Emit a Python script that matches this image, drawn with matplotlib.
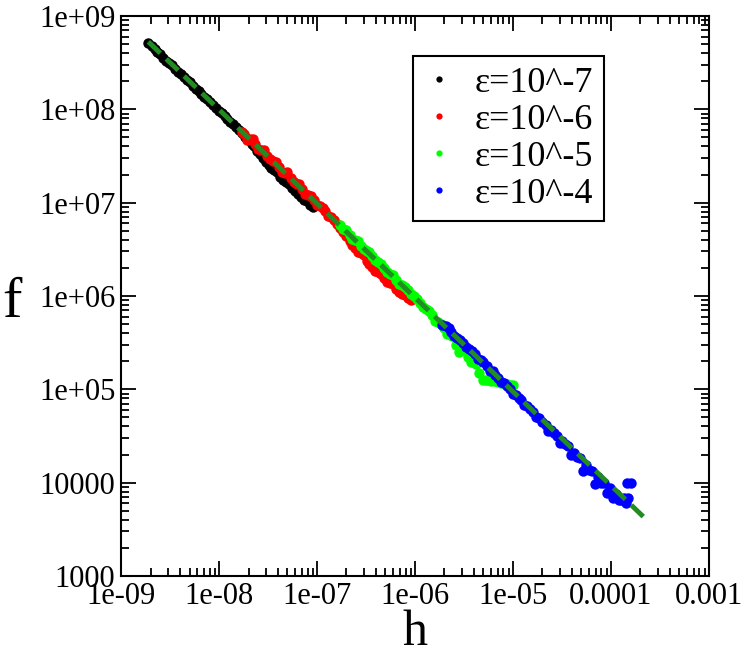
import matplotlib
matplotlib.use("Agg")
import matplotlib.pyplot as plt
from matplotlib.ticker import LogLocator, NullFormatter, FixedFormatter, FixedLocator

# ---- data (step size h vs. function evaluations f) ----
h_e7 = [1.9e-9, 2.05e-9, 2.2e-9, 2.35e-9, 2.5e-9, 2.7e-9, 2.9e-9, 3.1e-9, 3.3e-9, 3.55e-9,
        3.8e-9, 4.1e-9, 4.4e-9, 4.7e-9, 5.0e-9, 5.4e-9, 5.8e-9, 6.2e-9, 6.6e-9, 7.1e-9,
        7.6e-9, 8.1e-9, 8.7e-9, 9.3e-9, 1.0e-8, 1.07e-8, 1.15e-8, 1.22e-8, 1.3e-8, 1.4e-8,
        1.5e-8, 1.6e-8, 1.7e-8, 1.85e-8, 2.0e-8, 2.15e-8, 2.3e-8, 2.45e-8, 2.6e-8, 2.8e-8,
        3.0e-8, 3.2e-8, 3.4e-8, 3.65e-8, 3.9e-8, 4.2e-8, 4.5e-8, 4.85e-8, 5.2e-8, 5.6e-8,
        6.0e-8, 6.45e-8, 6.9e-8, 7.4e-8, 7.9e-8, 8.4e-8, 9.0e-8]
f_e7 = [5.2e8, 4.73e8, 4.4e8, 4.13e8, 3.9e8, 3.59e8, 3.3e8, 3.13e8, 2.95e8, 2.73e8,
        2.5e8, 2.37e8, 2.2e8, 2.06e8, 1.95e8, 1.8e8, 1.65e8, 1.56e8, 1.47e8, 1.37e8,
        1.3e8, 1.2e8, 1.1e8, 1.04e8, 9.6e7, 9.07e7, 8.4e7, 7.95e7, 7.4e7, 6.93e7,
        6.5e7, 6.06e7, 5.6e7, 5.1e7, 4.7e7, 4.3e7, 4.0e7, 3.6e7, 3.3e7, 3.0e7,
        2.75e7, 2.55e7, 2.37e7, 2.25e7, 2.14e7, 1.9e7, 1.77e7, 1.68e7, 1.59e7, 1.44e7,
        1.34e7, 1.25e7, 1.15e7, 1.08e7, 1.03e7, 9.5e6, 8.9e6]

h_e6 = [1.7e-8, 1.8e-8, 1.95e-8, 2.05e-8, 2.2e-8, 2.35e-8, 2.5e-8, 2.7e-8, 2.9e-8, 3.1e-8,
        3.3e-8, 3.55e-8, 3.8e-8, 4.1e-8, 4.4e-8, 4.7e-8, 5.0e-8, 5.4e-8, 5.8e-8, 6.2e-8,
        6.6e-8, 7.1e-8, 7.6e-8, 8.1e-8, 8.7e-8, 9.3e-8, 1.0e-7, 1.07e-7, 1.15e-7, 1.22e-7,
        1.3e-7, 1.4e-7, 1.5e-7, 1.6e-7, 1.7e-7, 1.85e-7, 2.0e-7, 2.15e-7, 2.3e-7, 2.45e-7,
        2.6e-7, 2.8e-7, 3.0e-7, 3.2e-7, 3.4e-7, 3.65e-7, 3.9e-7, 4.2e-7, 4.5e-7, 4.85e-7,
        5.2e-7, 5.6e-7, 6.0e-7, 6.45e-7, 6.9e-7, 7.4e-7, 7.9e-7, 8.4e-7, 9.0e-7]
f_e6 = [5.7e7, 5.5e7, 4.72e7, 4.83e7, 4.76e7, 4.2e7, 3.76e7, 3.66e7, 3.68e7, 3.2e7,
        2.94e7, 2.79e7, 2.76e7, 2.42e7, 2.11e7, 2.1e7, 2.13e7, 1.83e7, 1.67e7, 1.6e7,
        1.59e7, 1.4e7, 1.24e7, 1.22e7, 1.18e7, 1.06e7, 9.5e6, 9.2e6, 8.85e6, 8.1e6,
        7.16e6, 7.0e6, 6.6e6, 5.9e6, 5.31e6, 4.9e6, 4.37e6, 3.9e6, 3.54e6, 3.3e6,
        2.98e6, 2.9e6, 2.75e6, 2.4e6, 2.22e6, 2.05e6, 1.87e6, 1.8e6, 1.72e6, 1.55e6,
        1.42e6, 1.38e6, 1.36e6, 1.2e6, 1.1e6, 1.05e6, 1.02e6, 9.6e5, 9.05e5]

h_e5 = [1.7e-7, 1.85e-7, 2.0e-7, 2.15e-7, 2.3e-7, 2.45e-7, 2.6e-7, 2.8e-7, 3.0e-7, 3.2e-7,
        3.4e-7, 3.65e-7, 3.9e-7, 4.2e-7, 4.5e-7, 4.85e-7, 5.2e-7, 5.6e-7, 6.0e-7, 6.45e-7,
        6.9e-7, 7.4e-7, 7.9e-7, 8.4e-7, 9.0e-7, 9.7e-7, 1.05e-6, 1.12e-6, 1.2e-6, 1.3e-6,
        1.4e-6, 1.5e-6, 1.6e-6, 1.72e-6, 1.85e-6, 1.97e-6, 2.1e-6, 2.25e-6, 2.4e-6, 2.6e-6,
        2.8e-6, 3.0e-6, 3.2e-6, 3.45e-6, 3.7e-6, 3.95e-6, 4.2e-6, 4.55e-6, 4.9e-6, 5.25e-6,
        5.6e-6, 6.0e-6, 6.5e-6, 7.0e-6, 7.5e-6, 8.0e-6, 8.6e-6, 9.3e-6, 1.0e-5]
f_e5 = [5.71e6, 5.24e6, 5.04e6, 4.51e6, 4.09e6, 3.96e6, 3.92e6, 3.46e6, 3.17e6, 3.03e6,
        2.97e6, 2.66e6, 2.41e6, 2.31e6, 2.22e6, 2.0e6, 1.83e6, 1.73e6, 1.68e6, 1.5e6,
        1.35e6, 1.31e6, 1.25e6, 1.15e6, 1.05e6, 1.0e6, 9.24e5, 8.5e5, 7.68e5, 7.3e5,
        6.93e5, 6.2e5, 5.46e5, 5.3e5, 5.03e5, 4.5e5, 3.93e5, 3.9e5, 3.72e5, 3.0e5,
        2.49e5, 2.7e5, 2.58e5, 2.2e5, 1.97e5, 1.95e5, 1.85e5, 1.5e5, 1.27e5, 1.26e5,
        1.25e5, 1.24e5, 1.22e5, 1.2e5, 1.18e5, 1.16e5, 1.14e5, 1.12e5, 1.1e5]

h_e4 = [1.9e-6, 2.05e-6, 2.2e-6, 2.35e-6, 2.5e-6, 2.7e-6, 2.9e-6, 3.1e-6, 3.3e-6, 3.55e-6,
        3.8e-6, 4.1e-6, 4.4e-6, 4.7e-6, 5.0e-6, 5.4e-6, 5.8e-6, 6.2e-6, 6.6e-6, 7.1e-6,
        7.6e-6, 8.1e-6, 8.7e-6, 9.3e-6, 1.0e-5, 1.07e-5, 1.15e-5, 1.22e-5, 1.3e-5, 1.4e-5,
        1.5e-5, 1.6e-5, 1.7e-5, 1.85e-5, 2.0e-5, 2.15e-5, 2.3e-5, 2.45e-5, 2.6e-5, 2.8e-5,
        3.0e-5, 3.2e-5, 3.4e-5, 3.65e-5, 3.9e-5, 4.2e-5, 4.5e-5, 4.85e-5, 5.2e-5, 5.6e-5,
        6.0e-5, 6.45e-5, 6.9e-5, 7.4e-5, 7.9e-5, 8.4e-5, 9.0e-5, 9.7e-5, 1.05e-4, 1.12e-4,
        1.2e-4, 1.27e-4, 1.35e-4, 1.42e-4, 1.5e-4, 1.45e-4, 1.6e-4]
f_e4 = [4.85e5, 4.73e5, 4.54e5, 4.13e5, 3.76e5, 3.59e5, 3.41e5, 3.13e5, 2.82e5, 2.73e5,
        2.6e5, 2.37e5, 2.09e5, 2.06e5, 1.94e5, 1.8e5, 1.59e5, 1.56e5, 1.44e5, 1.33e5,
        1.19e5, 1.17e5, 1.08e5, 1.0e5, 9.0e4, 8.7e4, 8.1e4, 7.6e4, 6.86e4, 6.6e4,
        6.15e4, 5.75e4, 5.02e4, 4.95e4, 4.51e4, 4.2e4, 3.59e4, 3.65e4, 3.43e4, 3.2e4,
        2.65e4, 2.8e4, 2.57e4, 2.45e4, 1.99e4, 2.1e4, 1.9e4, 1.82e4, 1.35e4, 1.55e4,
        1.38e4, 1.34e4, 9.6e3, 1.15e4, 9.8e3, 1.0e4, 7.8e3, 8.7e3, 6.84e3, 7.5e3,
        6.47e3, 6.6e3, 6.8e3, 6.0e3, 6.8e3, 1.0e4, 1.0e4]

# fitted line f ~ 1/h
fit_h = [1.9e-9, 2.2e-4]
fit_f = [5.3e8, 4.2e3]

series = [
    (h_e7, f_e7, "black", "\u03b5=10^-7"),
    (h_e6, f_e6, "red", "\u03b5=10^-6"),
    (h_e5, f_e5, "#00ff00", "\u03b5=10^-5"),
    (h_e4, f_e4, "blue", "\u03b5=10^-4"),
]

xticks = [1e-9, 1e-8, 1e-7, 1e-6, 1e-5, 1e-4, 1e-3]
xticklabels = ["1e-09", "1e-08", "1e-07", "1e-06", "1e-05", "0.0001", "0.001"]
yticks = [1e3, 1e4, 1e5, 1e6, 1e7, 1e8, 1e9]
yticklabels = ["1000", "10000", "1e+05", "1e+06", "1e+07", "1e+08", "1e+09"]

plt.rcParams["font.family"] = ["Liberation Serif", "DejaVu Serif"]

fig = plt.figure(figsize=(7.41, 6.53), dpi=100)
ax = fig.add_axes([0.1633, 0.1179, 0.7935, 0.8576])

for hh, ff, col, lab in series:
    ax.plot(hh, ff, linestyle="none", marker="o", markersize=7.5, color=col,
            markeredgewidth=0, label=lab)

ax.plot(fit_h, fit_f, color="#228b22", linewidth=3.5, dashes=(3.4, 1.7))

ax.set_xscale("log")
ax.set_yscale("log")
ax.set_xlim(1e-9, 1e-3)
ax.set_ylim(1e3, 1e9)

ax.xaxis.set_major_locator(FixedLocator(xticks))
ax.xaxis.set_major_formatter(FixedFormatter(xticklabels))
ax.yaxis.set_major_locator(FixedLocator(yticks))
ax.yaxis.set_major_formatter(FixedFormatter(yticklabels))
ax.xaxis.set_minor_locator(LogLocator(base=10, subs=range(2, 10), numticks=20))
ax.yaxis.set_minor_locator(LogLocator(base=10, subs=range(2, 10), numticks=20))
ax.xaxis.set_minor_formatter(NullFormatter())
ax.yaxis.set_minor_formatter(NullFormatter())

ax.tick_params(which="both", direction="in", top=True, right=True, labelsize=22, width=1.3)
ax.tick_params(which="major", length=11, pad=4)
ax.tick_params(which="minor", length=6)
for sp in ax.spines.values():
    sp.set_linewidth(1.5)

ax.set_xlabel("h", fontsize=36, labelpad=-1)
ax.set_ylabel("f", fontsize=42, rotation=0, ha="center", va="center")
ax.yaxis.set_label_coords(-0.186, 0.487)

leg = ax.legend(loc="upper left", bbox_to_anchor=(0.497, 0.929), fontsize=26,
                fancybox=False, framealpha=1, edgecolor="black", markerscale=0.6,
                handlelength=0.8, handletextpad=0.6, borderpad=0.3, labelspacing=0.1,
                borderaxespad=0)
leg.get_frame().set_linewidth(1.5)

fig.savefig("out.png", dpi=100)
